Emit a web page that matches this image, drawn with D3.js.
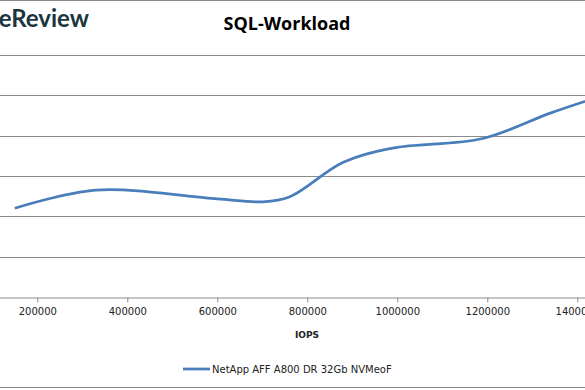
<!DOCTYPE html>
<html>
<head>
<meta charset="utf-8">
<script src="https://cdn.jsdelivr.net/npm/d3@7"></script>
<style>
  body { margin: 0; background: #fff; }
  svg { display: block; }
</style>
</head>
<body>
<svg id="chart"></svg>
<script>
// values (latency axis is cropped away, so ms are estimated)
const iops = [150000, 330000, 600000, 700000, 760000, 880000, 990000, 1190000, 1340000, 1450000];
const latency = [0.220, 0.265, 0.243, 0.236, 0.248, 0.334, 0.369, 0.393, 0.456, 0.497];
const xTicks = [200000, 400000, 600000, 800000, 1000000, 1200000, 1400000];
const yTicks = [0, 0.1, 0.2, 0.3, 0.4, 0.5, 0.6];
const seriesName = 'NetApp AFF A800 DR 32Gb NVMeoF';

const width = 585, height = 390;
const svg = d3.select('#chart').attr('width', width).attr('height', height);

// the plot runs off both sides of the picture
const x = d3.scaleLinear().domain([0, 1600000]).range([-52.7, 667.3]);
const y = d3.scaleLinear().domain([0, 0.6]).range([297, 55]);

// outer border (top and bottom visible)
svg.append('line').attr('x1', 0).attr('x2', width).attr('y1', 0.5).attr('y2', 0.5)
  .attr('stroke', '#8c8c8c');
svg.append('line').attr('x1', 0).attr('x2', width).attr('y1', 387.5).attr('y2', 387.5)
  .attr('stroke', '#8c8c8c');

// logo, cropped by the left edge like in the source
svg.append('text')
  .attr('x', 89).attr('y', 27)
  .attr('text-anchor', 'end')
  .attr('font-family', 'Lato, sans-serif')
  .attr('font-weight', 700)
  .attr('font-size', 24)
  .attr('fill', '#1c3640')
  .text('StorageReview');

// title
svg.append('text')
  .attr('x', 287).attr('y', 30)
  .attr('text-anchor', 'middle')
  .attr('font-family', '"Open Sans", sans-serif')
  .attr('font-weight', 700)
  .attr('font-size', 18)
  .attr('fill', '#000')
  .text('SQL-Workload');

// horizontal gridlines
svg.append('g')
  .selectAll('line')
  .data(yTicks.slice(1))
  .join('line')
  .attr('x1', x(0)).attr('x2', x(1600000))
  .attr('y1', d => Math.round(y(d)) + 0.5)
  .attr('y2', d => Math.round(y(d)) + 0.5)
  .attr('stroke', '#8c8c8c');

// x axis
const xAxis = svg.append('g')
  .attr('transform', `translate(0,${Math.round(y(0)) + 0.5})`)
  .call(d3.axisBottom(x).tickValues(xTicks).tickSize(5).tickPadding(5).tickFormat(d3.format('d')));
xAxis.select('.domain').attr('stroke', '#8c8c8c');
xAxis.selectAll('.tick line').attr('stroke', '#8c8c8c');
xAxis.selectAll('.tick text')
  .attr('font-family', '"DejaVu Sans", sans-serif')
  .attr('font-size', 10)
  .attr('fill', '#222');

// axis title
svg.append('text')
  .attr('x', 307).attr('y', 338)
  .attr('text-anchor', 'middle')
  .attr('font-family', '"DejaVu Sans", sans-serif')
  .attr('font-weight', 700)
  .attr('font-size', 9)
  .attr('fill', '#222')
  .text('IOPS');

// series line
const line = d3.line()
  .x((d, i) => x(iops[i]))
  .y(d => y(d))
  .curve(d3.curveCatmullRom.alpha(0.5));

svg.append('path')
  .datum(latency)
  .attr('d', line)
  .attr('fill', 'none')
  .attr('stroke', '#4a7ebb')
  .attr('stroke-width', 2.75);

// legend
svg.append('line')
  .attr('x1', 183).attr('x2', 210).attr('y1', 369).attr('y2', 369)
  .attr('stroke', '#4a7ebb').attr('stroke-width', 2.75);
svg.append('text')
  .attr('x', 212).attr('y', 372.5)
  .attr('font-family', '"DejaVu Sans", sans-serif')
  .attr('font-size', 10)
  .attr('fill', '#222')
  .text(seriesName);
</script>
</body>
</html>
